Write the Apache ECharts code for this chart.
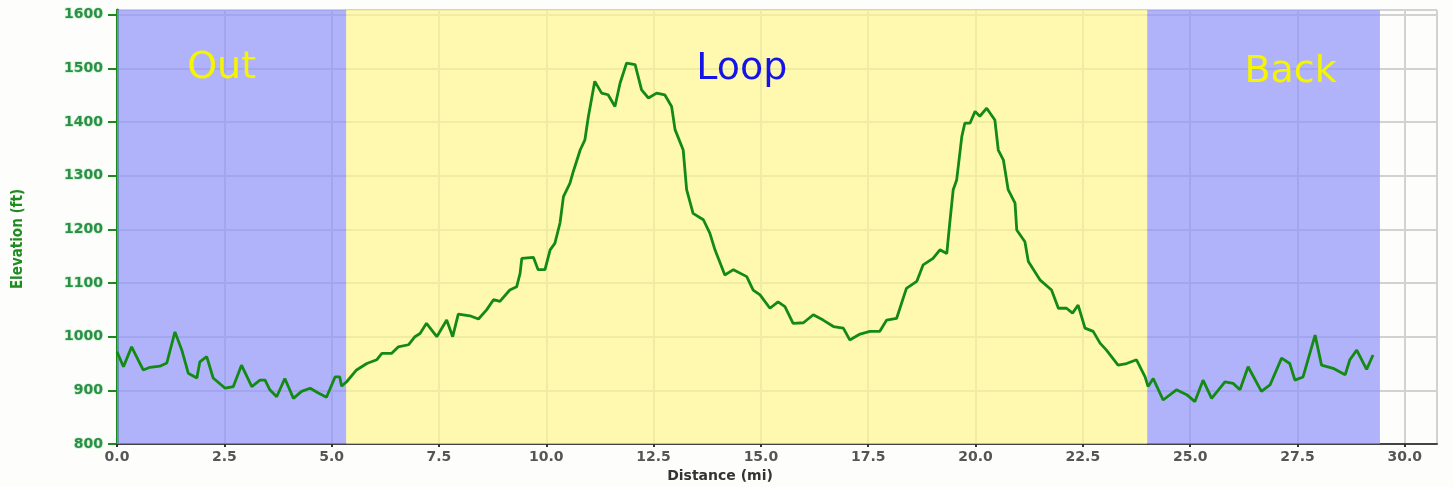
<!DOCTYPE html>
<html>
<head>
<meta charset="utf-8">
<script src="https://cdn.jsdelivr.net/npm/echarts@6/dist/echarts.min.js"></script>
<style>
  html, body { margin: 0; padding: 0; background: #fdfdfb; }
  #chart { width: 1453px; height: 487px; }
</style>
</head>
<body>
<div id="chart"></div>
<script>
// distance (mi) / elevation (ft)
const distance = [0, 0.15, 0.34, 0.61, 0.77, 1.0, 1.16, 1.35, 1.51, 1.66, 1.86, 1.93, 2.09, 2.24, 2.52, 2.71, 2.9, 3.14, 3.33, 3.45, 3.56, 3.72, 3.91, 4.11, 4.3, 4.5, 4.69, 4.88, 5.08, 5.19, 5.23, 5.35,
  5.39, 5.58, 5.82, 6.05, 6.17, 6.4, 6.55, 6.79, 6.94, 7.06, 7.21, 7.45, 7.68, 7.82, 7.95, 8.22, 8.42, 8.61, 8.77, 8.92, 9.15, 9.31, 9.39, 9.43, 9.7, 9.81, 9.97, 10.09, 10.2, 10.32, 10.4, 10.55, 10.63, 10.79, 10.9, 10.98, 11.13, 11.29, 11.44, 11.6, 11.72, 11.87, 12.07, 12.22, 12.38, 12.57, 12.76, 12.92, 13.0, 13.19, 13.27, 13.42, 13.66, 13.81, 13.93,
  14.16, 14.36, 14.67, 14.82, 14.98, 15.21, 15.4, 15.56, 15.75, 15.99, 16.22, 16.45, 16.69, 16.92, 17.07, 17.31, 17.54, 17.77, 17.93, 18.16, 18.39, 18.63, 18.78, 19.01, 19.17, 19.33, 19.4, 19.48, 19.56, 19.68, 19.75, 19.87, 19.99, 20.1, 20.26, 20.45, 20.53, 20.65, 20.76, 20.92, 20.96, 21.15, 21.23, 21.5, 21.77, 21.93, 22.12, 22.26, 22.39, 22.55, 22.74, 22.9, 23.05, 23.32, 23.52, 23.75, 23.95,
  24.02, 24.14, 24.37, 24.68, 24.92, 25.11, 25.3, 25.5, 25.81, 26.0, 26.16, 26.35, 26.66, 26.86, 27.13, 27.32, 27.44, 27.63, 27.91, 28.06, 28.33, 28.61, 28.72, 28.88, 29.11, 29.26];
const elevation = [972, 944, 981, 938, 943, 945, 951, 1009, 975, 932, 923, 953, 963, 923, 904, 907, 947, 907, 919, 919, 901, 888, 922, 885, 898, 904, 895, 887, 925, 925, 908, 916,
  919, 938, 950, 957, 969, 969, 981, 985, 1000, 1006, 1025, 1000, 1031, 1000, 1042, 1039, 1033, 1050, 1069, 1066, 1087, 1093, 1118, 1146, 1148, 1125, 1125, 1162, 1174, 1212, 1261, 1286, 1308, 1348, 1367, 1410, 1476, 1454, 1451, 1429, 1473, 1510, 1507, 1460, 1445, 1454, 1451, 1429, 1386, 1348, 1274, 1230, 1218, 1193, 1162,
  1115, 1125, 1112, 1087, 1078, 1053, 1065, 1056, 1025, 1026, 1041, 1031, 1019, 1016, 994, 1005, 1010, 1010, 1031, 1034, 1090, 1103, 1134, 1146, 1162, 1155, 1212, 1274, 1292, 1373, 1398, 1398, 1420, 1411, 1426, 1404, 1348, 1329, 1274, 1249, 1199, 1177, 1140, 1106, 1087, 1053, 1053, 1044, 1059, 1016, 1010, 988, 975, 947, 950, 957, 925,
  907, 922, 882, 901, 892, 879, 919, 885, 916, 913, 901, 944, 898, 910, 960, 950, 919, 925, 1003, 947, 941, 929, 957, 975, 939, 966];

const sections = ['Out', 'Loop', 'Back'];
const sectionStart = [0, 5.34, 24.0];
const sectionEnd = [5.34, 24.0, 29.42];

const chart = echarts.init(document.getElementById('chart'));

const sectionColors = ['rgba(142,146,249,0.7)', 'rgba(254,246,142,0.7)', 'rgba(142,146,249,0.7)'];
const sectionText = ['#f5f500', '#1414e6', '#f5f500'];
const sectionOffset = [[-10, 39], [-5, 40], [27, 43]];

chart.setOption({
  animation: false,
  backgroundColor: '#fdfdfb',
  grid: { left: 117, right: 16, top: 10, bottom: 43, containLabel: false, outerBoundsMode: 'none' },
  xAxis: {
    type: 'value', min: 0, max: 30.75, interval: 2.5,
    name: 'Distance (mi)', nameLocation: 'middle', nameGap: 21,
    nameTextStyle: { fontFamily: 'DejaVu Sans', fontWeight: 'bold', fontSize: 14, color: '#333', padding: [0, 114, 0, 0] },
    axisLine: { lineStyle: { color: '#444', width: 2 } },
    axisTick: { length: 3, lineStyle: { color: '#333', width: 2 } },
    axisLabel: { showMaxLabel: false, margin: 6, formatter: v => v.toFixed(1),
      fontFamily: 'DejaVu Sans', fontWeight: 'bold', fontSize: 14, color: '#555' },
    splitLine: { show: true, lineStyle: { color: '#d2d2d2', width: 2 } }
  },
  yAxis: {
    type: 'value', min: 800, max: 1609, interval: 100,
    name: 'Elevation (ft)', nameLocation: 'middle', nameGap: 91,
    nameTextStyle: { fontFamily: 'DejaVu Sans Condensed', fontWeight: 'bold', fontSize: 15, color: '#1e8c1e', padding: [0, 24, 0, 0] },
    axisLine: { show: true, lineStyle: { color: '#1a8a1a', width: 3 } },
    axisTick: { show: true, length: 9, lineStyle: { color: '#1a8a1a', width: 2 } },
    axisLabel: { showMaxLabel: false, margin: 14, formatter: v => String(v),
      fontFamily: 'DejaVu Sans', fontWeight: 'bold', fontSize: 14, color: '#2b8f4a',
      textBorderColor: 'rgba(170,230,170,0.6)', textBorderWidth: 1.5 },
    splitLine: { show: true, lineStyle: { color: '#d2d2d2', width: 2 } }
  },
  series: [{
    type: 'line',
    data: distance.map((d, i) => [d, elevation[i]]),
    showSymbol: false,
    lineStyle: { color: '#138a13', width: 2.8 },
    itemStyle: { color: '#138a13' },
    z: 3,
    markArea: {
      silent: true,
      data: sections.map((s, i) => [
        { name: s, xAxis: sectionStart[i], itemStyle: { color: sectionColors[i] },
          label: { color: sectionText[i], offset: sectionOffset[i] } },
        { xAxis: sectionEnd[i] }
      ]),
      label: { show: true, position: 'insideTop', distance: 0,
        fontFamily: 'DejaVu Sans', fontSize: 38, lineHeight: 38 }
    }
  }]
});
</script>
</body>
</html>
